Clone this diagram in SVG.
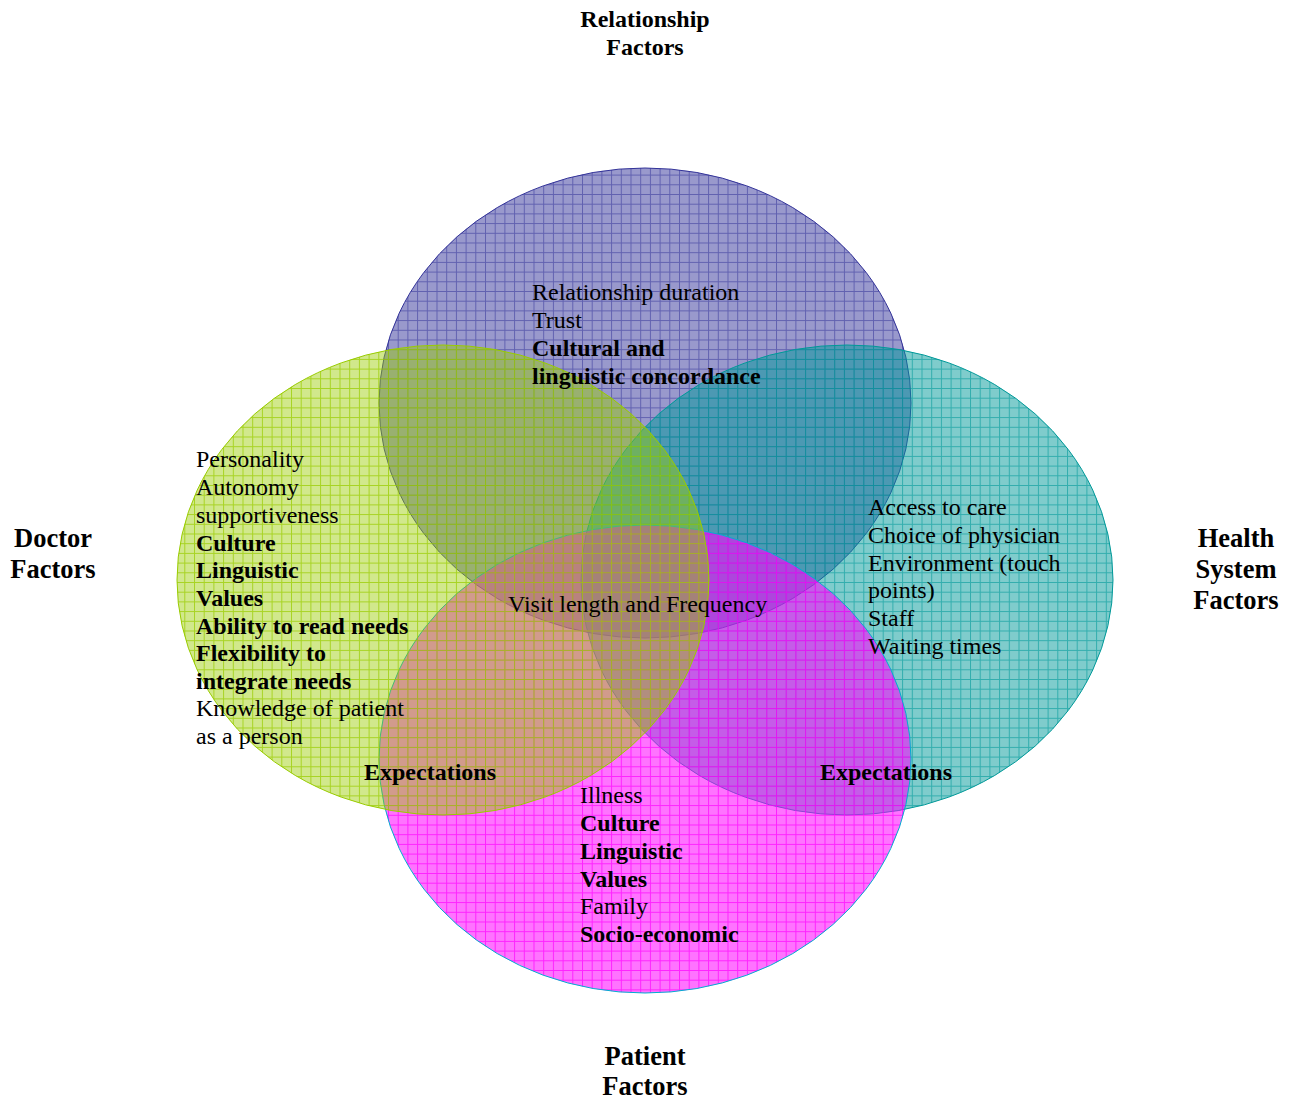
<svg xmlns="http://www.w3.org/2000/svg" width="1292" height="1099" viewBox="0 0 1292 1099">
<style>
text{font-family:"Liberation Serif","Times New Roman",serif;fill:#000}
.t{font-size:24px}
.b{font-weight:bold}
.lbl{font-weight:bold;font-size:26.5px;text-anchor:middle}
.lblt{font-weight:bold;font-size:24px;text-anchor:middle}
</style>
<defs>
<pattern id="gB" width="9.7" height="9.7" patternUnits="userSpaceOnUse"><path d="M0 0.5H9.7M0.5 0V9.7" stroke="#333399" stroke-opacity="0.55" stroke-width="1" fill="none"/></pattern>
<pattern id="gG" width="9.7" height="9.7" patternUnits="userSpaceOnUse"><path d="M0 0.5H9.7M0.5 0V9.7" stroke="#99cc00" stroke-opacity="0.75" stroke-width="1" fill="none"/></pattern>
<pattern id="gT" width="9.7" height="9.7" patternUnits="userSpaceOnUse"><path d="M0 0.5H9.7M0.5 0V9.7" stroke="#009999" stroke-opacity="0.6" stroke-width="1" fill="none"/></pattern>
<pattern id="gM" width="9.7" height="9.7" patternUnits="userSpaceOnUse"><path d="M0 0.5H9.7M0.5 0V9.7" stroke="#ff00ff" stroke-opacity="0.7" stroke-width="1" fill="none"/></pattern>
</defs>
<g id="relationship">
<ellipse cx="645" cy="403" rx="266" ry="235" fill="#333399" fill-opacity="0.5"/>
<ellipse cx="645" cy="403" rx="266" ry="235" fill="url(#gB)" stroke="#333399" stroke-width="1"/>
</g>
<g id="health">
<ellipse cx="847" cy="580" rx="266" ry="235" fill="#009999" fill-opacity="0.5"/>
<ellipse cx="847" cy="580" rx="266" ry="235" fill="url(#gT)" stroke="#009999" stroke-width="1"/>
</g>
<g id="patient">
<ellipse cx="645" cy="759" rx="266" ry="234" fill="#ff00ff" fill-opacity="0.55"/>
<ellipse cx="645" cy="759" rx="266" ry="234" fill="url(#gM)" stroke="#00b0d0" stroke-width="1"/>
</g>
<g id="doctor">
<ellipse cx="443" cy="580" rx="266" ry="235" fill="#99cc00" fill-opacity="0.45"/>
<ellipse cx="443" cy="580" rx="266" ry="235" fill="url(#gG)" stroke="#99cc00" stroke-width="1"/>
</g>
<g id="connectors"></g>
<g id="texts-relationship">
<text class="t" x="532" y="300">Relationship duration</text>
<text class="t" x="532" y="328">Trust</text>
<text class="t b" x="532" y="356">Cultural and</text>
<text class="t b" x="532" y="384">linguistic concordance</text>
</g>
<g id="texts-doctor">
<text class="t" x="196" y="467">Personality</text>
<text class="t" x="196" y="495">Autonomy</text>
<text class="t" x="196" y="523">supportiveness</text>
<text class="t b" x="196" y="551">Culture</text>
<text class="t b" x="196" y="578">Linguistic</text>
<text class="t b" x="196" y="606">Values</text>
<text class="t b" x="196" y="634">Ability to read needs</text>
<text class="t b" x="196" y="661">Flexibility to</text>
<text class="t b" x="196" y="689">integrate needs</text>
<text class="t" x="196" y="716">Knowledge of patient</text>
<text class="t" x="196" y="744">as a person</text>
</g>
<g id="texts-health">
<text class="t" x="868" y="515">Access to care</text>
<text class="t" x="868" y="543">Choice of physician</text>
<text class="t" x="868" y="571">Environment (touch</text>
<text class="t" x="868" y="598">points)</text>
<text class="t" x="868" y="626">Staff</text>
<text class="t" x="868" y="654">Waiting times</text>
</g>
<g id="texts-patient">
<text class="t" x="580" y="803">Illness</text>
<text class="t b" x="580" y="831">Culture</text>
<text class="t b" x="580" y="859">Linguistic</text>
<text class="t b" x="580" y="887">Values</text>
<text class="t" x="580" y="914">Family</text>
<text class="t b" x="580" y="942">Socio-economic</text>
</g>
<g id="texts-center">
<text class="t" x="508" y="612">Visit length and Frequency</text>
<text class="t b" x="364" y="780">Expectations</text>
<text class="t b" x="820" y="780">Expectations</text>
</g>
<g id="labels">
<text class="lblt" x="645" y="27">Relationship</text>
<text class="lblt" x="645" y="55">Factors</text>
<text class="lbl" x="53" y="547">Doctor</text>
<text class="lbl" x="53" y="578">Factors</text>
<text class="lbl" x="1236" y="547">Health</text>
<text class="lbl" x="1236" y="578">System</text>
<text class="lbl" x="1236" y="609">Factors</text>
<text class="lbl" x="645" y="1065">Patient</text>
<text class="lbl" x="645" y="1095">Factors</text>
</g>
</svg>
